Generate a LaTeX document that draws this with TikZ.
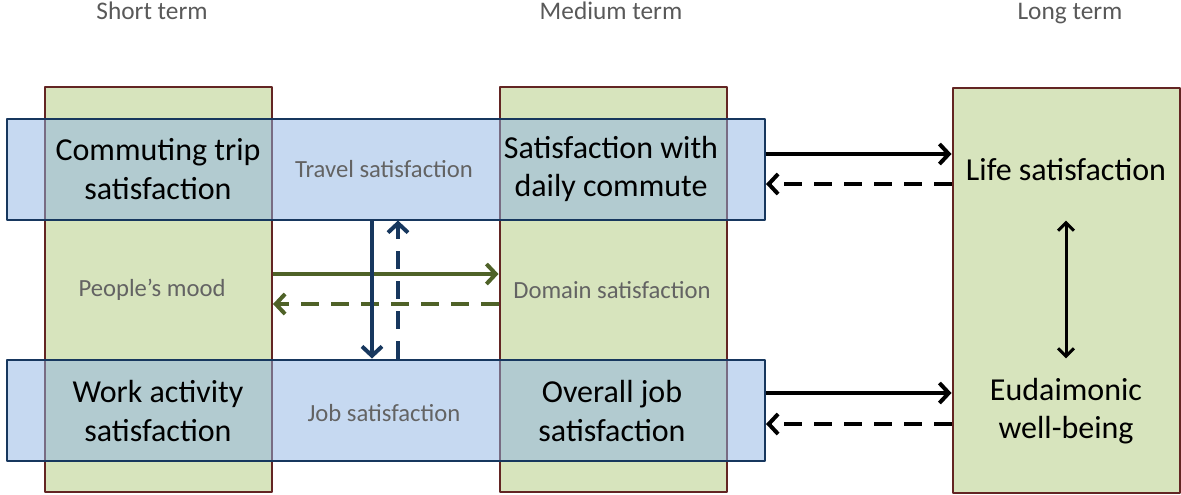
\documentclass[tikz,border=0pt]{standalone}
\usepackage{fontspec}
\setmainfont{Carlito}
\usetikzlibrary{arrows.meta}

\definecolor{termgreen}{HTML}{D7E4BD}
\definecolor{termborder}{HTML}{632523}
\definecolor{domblue}{HTML}{8EB4E3}
\definecolor{domborder}{HTML}{17375E}
\definecolor{moodgreen}{HTML}{4F6228}
\definecolor{labelgray}{HTML}{636363}
\definecolor{headgray}{HTML}{595959}

\tikzset{
  termcol/.style={draw=termborder, line width=1.5pt, fill=termgreen, inner sep=0pt,
    minimum width=170.25pt, minimum height=303.75pt},
  domrow/.style={draw=domborder, line width=1.5pt, fill=domblue, fill opacity=0.5,
    inner sep=0pt, minimum width=568.5pt, minimum height=75.75pt},
  big/.style={font=\fontsize{24}{29}\selectfont, align=center},
  small/.style={font=\fontsize{18.5}{22}\selectfont, text=labelgray},
  head/.style={font=\fontsize{19}{22}\selectfont, text=headgray, anchor=base},
  link/.style={line width=3pt, -{Straight Barb[length=7pt, width=15pt]}},
  back/.style={link, dash pattern=on 13.5pt off 9pt},
}

\begin{document}
\begin{tikzpicture}[x=0.75pt, y=-0.75pt, line join=round, line cap=butt]
	\useasboundingbox (0,0) rectangle (1181,494);
	% time columns
	\node[termcol] (colS) at (158.5,289) {};
	\node[termcol] (colM) at (613,289) {};
	\node[termcol] (colL) at (1066,290) {};
	% domain rows laid over them
	\node[domrow] (rowT) at (386,169) {};
	\node[domrow] (rowJ) at (386,410) {};
	% headings
	\node[head] (hS) at (152,19) {Short term};
	\node[head] (hM) at (611,19) {Medium term};
	\node[head] (hL) at (1070,19) {Long term};
	% labels
	\node[small] (travel) at (384,169) {Travel satisfaction};
	\node[small] (job) at (384,413) {Job satisfaction};
	\node[small] (mood) at (152,290) {People’s mood};
	\node[small] (dom) at (612,290) {Domain satisfaction};
	\node[big] (trip) at (158,169) {Commuting trip\\satisfaction};
	\node[big] (commute) at (611,169) {Satisfaction with\\daily commute};
	\node[big] (work) at (158,411) {Work activity\\satisfaction};
	\node[big] (overall) at (612,411) {Overall job\\satisfaction};
	\node[big] (life) at (1066,170) {Life satisfaction};
	\node[big] (eud) at (1066,411) {Eudaimonic\\well-being};
	% medium to long term
	\draw[link] ([yshift=11.25pt]rowT.east) -- ([yshift=11.25pt]rowT.east -| colL.west);
	\draw[back] ([yshift=-11.25pt]rowT.east -| colL.west) -- ([yshift=-11.25pt]rowT.east);
	\draw[link] ([yshift=12.75pt]rowJ.east) -- ([yshift=12.75pt]rowJ.east -| colL.west);
	\draw[back] ([yshift=-10.5pt]rowJ.east -| colL.west) -- ([yshift=-10.5pt]rowJ.east);
	\draw[line width=2.25pt, {Straight Barb[length=6pt, width=12pt]}-{Straight Barb[length=6pt, width=12pt]},
		shorten <=26pt, shorten >=11pt] (life.south) -- (eud.north);
	% mood and domain
	\draw[link, moodgreen] ([yshift=11.25pt]colS.east) -- ([yshift=11.25pt]colS.east -| colM.west);
	\draw[back, moodgreen] ([yshift=-11.25pt]colS.east -| colM.west) -- ([yshift=-11.25pt]colS.east);
	% travel and job
	\draw[link, domborder] ([xshift=-10.5pt]rowT.south) -- ([xshift=-10.5pt]rowJ.north);
	\draw[back, domborder] ([xshift=9pt]rowJ.north) -- ([xshift=9pt]rowT.south);
\end{tikzpicture}
\end{document}
